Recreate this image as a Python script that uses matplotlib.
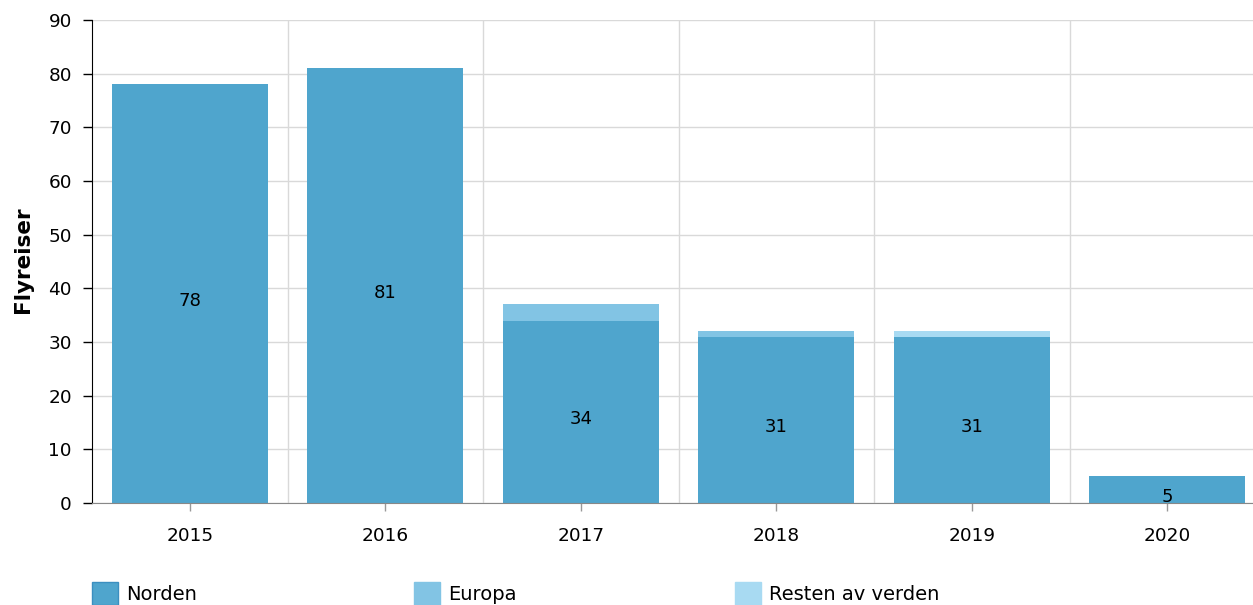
import matplotlib
matplotlib.use("Agg")
import matplotlib.pyplot as plt
from matplotlib.patches import Rectangle

years = ["2015", "2016", "2017", "2018", "2019", "2020"]
norden = [78, 81, 34, 31, 31, 5]
europa = [0, 0, 3, 1, 0, 0]
resten = [0, 0, 0, 0, 1, 0]
series_names = ["Norden", "Europa", "Resten av verden"]
colors = ["#4fa5cd", "#82c4e4", "#a8daf2"]

W, H = 1253, 605
fig = plt.figure(figsize=(W / 100, H / 100), dpi=100)
left, right = 92 / W, 1265 / W
bottom, top = 1 - 503 / H, 1 - 20 / H
ax = fig.add_axes([left, bottom, right - left, top - bottom])

x = list(range(len(years)))
ax.bar(x, norden, width=0.8, color=colors[0], zorder=3)
b2 = [n for n in norden]
ax.bar(x, europa, width=0.8, bottom=b2, color=colors[1], zorder=3)
b3 = [n + e for n, e in zip(norden, europa)]
ax.bar(x, resten, width=0.8, bottom=b3, color=colors[2], zorder=3)

for xi, v in zip(x, norden):
    ax.annotate(str(v), (xi, v / 2), xytext=(0, -5), textcoords="offset points",
                ha="center", va="center", fontsize=13, color="black", zorder=6)

ax.set_xlim(-0.5, len(years) - 0.5)
ax.set_ylim(0, 90)
ax.set_yticks(range(0, 91, 10))
ax.set_xticks(x)
ax.set_xticklabels(years)
ax.set_xticks([i + 0.5 for i in x[:-1]], minor=True)

ax.grid(axis="y", color="#d9d9d9", linewidth=1, zorder=0)
ax.grid(axis="x", which="minor", color="#d9d9d9", linewidth=1, zorder=0)
ax.tick_params(axis="x", which="minor", length=0)
ax.tick_params(axis="y", length=6.5, width=1, color="black", labelsize=13.3, pad=8)
ax.tick_params(axis="x", which="major", length=6, width=1, color="#999999", labelsize=13.3, pad=11)

for s in ["top", "right"]:
    ax.spines[s].set_visible(False)
ax.spines["left"].set_color("black")
ax.spines["bottom"].set_color("#888888")
ax.spines["bottom"].set_zorder(5)

ax.set_ylabel("Flyreiser", fontsize=15.5, fontweight="bold")
ax.yaxis.label.set_verticalalignment("center")
ax.yaxis.label.set_horizontalalignment("center")
ax.yaxis.set_label_coords(23 / W, 1 - 260 / H, transform=fig.transFigure)

# legend at bottom
leg_x = [92, 414, 735]
for lx, name, c in zip(leg_x, series_names, colors):
    fig.patches.append(Rectangle((lx / W, 1 - 605 / H), 26 / W, 23 / H,
                                 transform=fig.transFigure, facecolor=c,
                                 edgecolor="#3b8fc0" if name == "Norden" else c, linewidth=1))
    fig.text((lx + 34) / W, 1 - 595 / H, name, fontsize=14, va="center", ha="left")

fig.savefig("out.png", dpi=100)
